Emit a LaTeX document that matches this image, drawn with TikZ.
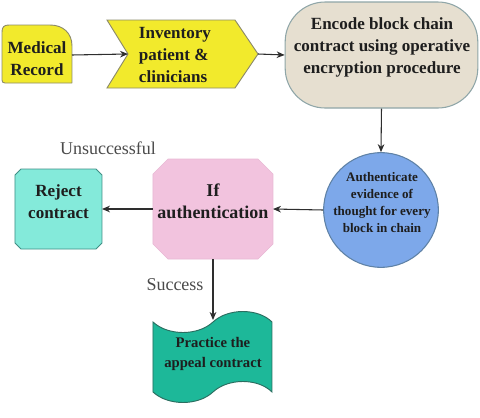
\documentclass[tikz,border=0pt]{standalone}
\usepackage{fontspec}
\setmainfont{Liberation Serif}
\usetikzlibrary{arrows.meta}
\definecolor{yel}{HTML}{F2EA2C}
\definecolor{yelb}{HTML}{8C8A6A}
\definecolor{beige}{HTML}{E6DFD0}
\definecolor{beigeb}{HTML}{8FA6A8}
\definecolor{blu}{HTML}{7DA8EA}
\definecolor{blub}{HTML}{5F82A6}
\definecolor{pnk}{HTML}{F2C3DE}
\definecolor{pnkb}{HTML}{E8B8D4}
\definecolor{turq}{HTML}{84EADA}
\definecolor{turqb}{HTML}{3F8F85}
\definecolor{teal}{HTML}{1DB899}
\definecolor{tealb}{HTML}{2B6E60}
\definecolor{txt}{HTML}{1E1E1E}
\definecolor{lbl}{HTML}{4A4A4A}
\definecolor{arr}{HTML}{2E2E2E}
\tikzset{
  conn/.style={draw=arr, line width=0.8pt, -{Stealth[length=6pt,width=5pt]}},
  bigtxt/.style={text=txt, font=\bfseries\fontsize{12.8}{16.5}\selectfont, align=center, inner sep=0pt},
  midtxt/.style={text=txt, font=\bfseries\fontsize{11}{15}\selectfont, align=center, inner sep=0pt},
  smtxt/.style={text=txt, font=\bfseries\fontsize{9.8}{12.75}\selectfont, align=center, inner sep=0pt},
  lbltxt/.style={text=lbl, font=\fontsize{13.5}{16}\selectfont, inner sep=0pt},
  anchorbox/.style={inner sep=0pt, outer sep=0pt},
}
\begin{document}
\begin{tikzpicture}[x=0.75pt,y=-0.75pt]
\useasboundingbox (0,0) rectangle (480,418);
% Medical Record
\draw[fill=yel, draw=yelb, line width=0.7pt, line join=round]
  (2,80) -- (2,32) .. controls (2,27) and (4,25) .. (9,25) -- (50,25)
  .. controls (63,25) and (72,33) .. (72,46) -- (72,83) -- (5,83) .. controls (3,83) and (2,82) .. (2,80) -- cycle;
\coordinate (medR) at (72,55);
\node[bigtxt] (med) at (37,58.5) {Medical\\Record};
% Inventory
\draw[fill=yel, draw=yelb, line width=0.7pt]
  (107,20) -- (235,20) -- (258,54) -- (235,88) -- (107,88) -- (128,54) -- cycle;
\coordinate (invL) at (128,54);
\coordinate (invR) at (258,54);
\node[bigtxt, align=left] (inv) at (175,55) {Inventory\\patient \&\\clinicians};
% Encode
\node[draw=beigeb, fill=beige, line width=0.8pt, rounded corners=30pt,
      minimum width=144.5pt, minimum height=79.5pt] (enc) at (381.5,55) {};
\node[bigtxt] (enct) at (382,47) {Encode block chain\\contract using operative\\encryption procedure};
% Circle
\node[circle, draw=blub, fill=blu, line width=0.8pt, minimum size=86pt, inner sep=0pt] (auth) at (381,210) {};
\node[smtxt] (autht) at (382,203) {Authenticate\\evidence of\\thought for every\\block in chain};
% If authentication
\draw[fill=pnk, draw=pnkb, line width=0.5pt]
  (168,159) -- (258,159) -- (273,174) -- (273,244) -- (258,259) -- (168,259) -- (153,244) -- (153,174) -- cycle;
\node[anchorbox, minimum width=90pt, minimum height=75pt] (ifa) at (213,209) {};
\node[bigtxt, font=\bfseries\fontsize{13.5}{16.5}\selectfont] (ifat) at (213,201) {If\\authentication};
% Reject
\draw[fill=turq, draw=turqb, line width=0.7pt]
  (21,169) -- (96,169) -- (102,175) -- (102,243) -- (96,249) -- (21,249) -- (15,243) -- (15,175) -- cycle;
\node[anchorbox, minimum width=65.25pt, minimum height=60pt] (rej) at (58.5,209) {};
\node[bigtxt] (rejt) at (58.5,201.5) {Reject\\contract};
% Practice
\draw[fill=teal, draw=tealb, line width=0.7pt]
  (153,322) .. controls (168,336) and (198,336) .. (213,322)
  .. controls (228,308) and (258,308) .. (272,322) -- (272,392)
  .. controls (258,378) and (228,378) .. (213,392)
  .. controls (198,406) and (168,406) .. (153,392) -- cycle;
\coordinate (pracT) at (213,320);
\node[midtxt] (prac) at (213,354) {Practice the\\appeal contract};
% labels
\node[lbltxt] (uns) at (108,148) {Unsuccessful};
\node[lbltxt] (suc) at (175,285) {Success};
% connectors
\draw[conn] (medR) -- (invL);
\draw[conn] (invR) -- (enc.west);
\draw[conn] (enc.south) -- (auth.north);
\draw[conn] (auth.west) -- (ifa.east);
\draw[conn] (ifa.west) -- (rej.east);
\draw[conn] (ifa.south) -- (pracT);
\end{tikzpicture}
\end{document}
